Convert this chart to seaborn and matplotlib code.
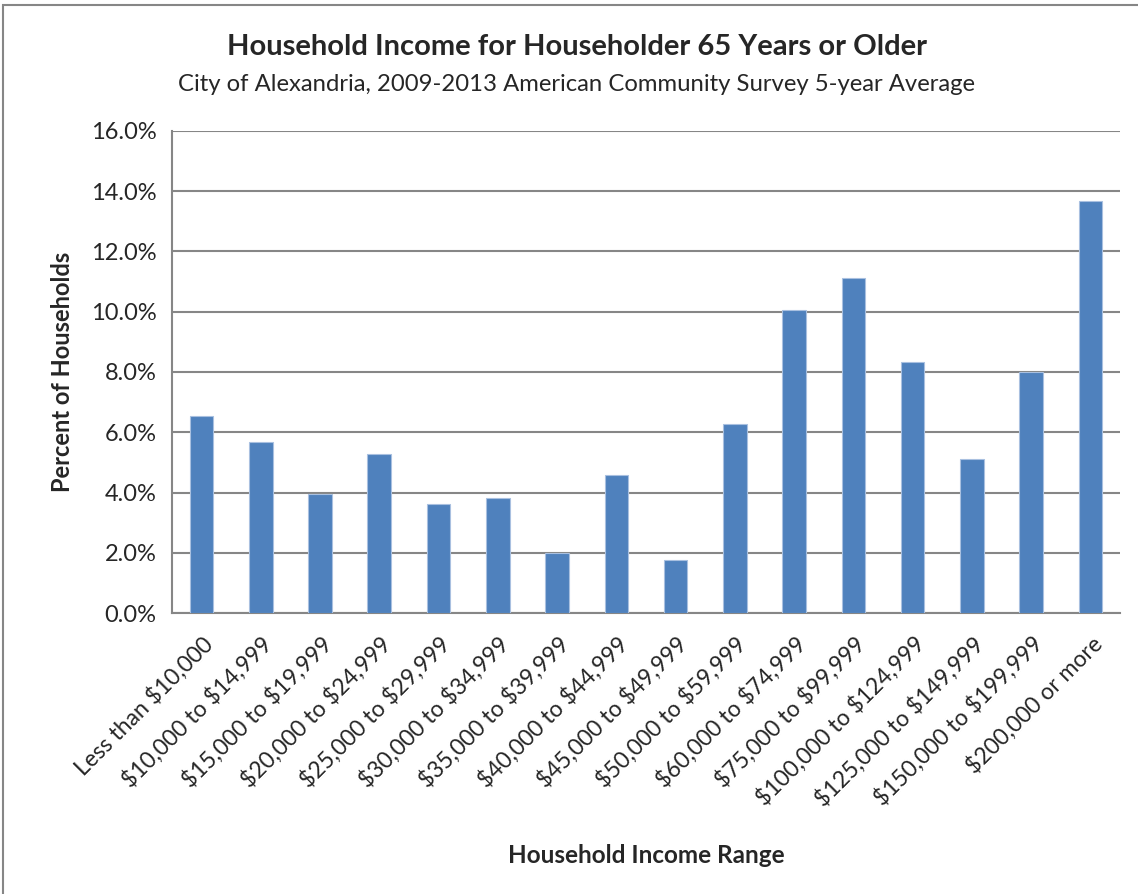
import pandas as pd
import seaborn as sns
import matplotlib.pyplot as plt
from matplotlib.ticker import FuncFormatter, FixedLocator
from matplotlib.patches import Rectangle

# income ranges and share of households (percent)
categories = ["Less than $10,000", "$10,000 to $14,999", "$15,000 to $19,999",
              "$20,000 to $24,999", "$25,000 to $29,999", "$30,000 to $34,999",
              "$35,000 to $39,999", "$40,000 to $44,999", "$45,000 to $49,999",
              "$50,000 to $59,999", "$60,000 to $74,999", "$75,000 to $99,999",
              "$100,000 to $124,999", "$125,000 to $149,999", "$150,000 to $199,999",
              "$200,000 or more"]
percent = [6.54, 5.67, 3.94, 5.27, 3.62, 3.82, 1.99, 4.57,
           1.77, 6.28, 10.06, 11.12, 8.33, 5.10, 7.99, 13.69]
yticks = [0, 2, 4, 6, 8, 10, 12, 14, 16]

df = pd.DataFrame({"range": categories, "pct": percent})

sns.set_style("white")
plt.rcParams["font.family"] = ["Lato", "DejaVu Sans"]
plt.rcParams["text.parse_math"] = False  # keep the $ signs literal
grid_col = "#868686"

fig = plt.figure(figsize=(11.38, 8.94), dpi=100)
ax = fig.add_axes([0.1511, 0.3143, 0.8331, 0.5392])

sns.barplot(data=df, x="range", y="pct", color="#4F81BD", width=0.4,
            saturation=1, edgecolor="#A9C0E0", linewidth=0.8, ax=ax, zorder=3)

ax.set_ylim(0, 16)
ax.set_xlim(-0.5, len(categories) - 0.5)
ax.yaxis.set_major_locator(FixedLocator(yticks))
ax.yaxis.set_major_formatter(FuncFormatter(lambda v, p: f"{v:.1f}%"))
ax.grid(axis="y", color=grid_col, linewidth=1.5, zorder=0)
ax.set_axisbelow(True)

for side in ["top", "right"]:
    ax.spines[side].set_visible(False)
for side in ["left", "bottom"]:
    ax.spines[side].set_color(grid_col)
    ax.spines[side].set_linewidth(1.5)

# ticks between categories, like Excel
ax.set_xticks(range(len(categories)))
ax.set_xticks([i - 0.5 for i in range(len(categories) + 1)], minor=True)
ax.tick_params(axis="x", which="major", length=0, pad=14)
ax.tick_params(axis="x", which="minor", length=7, width=1.5, color=grid_col, direction="out")
ax.tick_params(axis="y", length=7, width=1.5, color=grid_col, direction="out",
               labelsize=17, pad=4)
ax.set_xticklabels(categories, rotation=45, ha="right", rotation_mode="anchor",
                   fontsize=16.5)

ax.set_ylabel("Percent of Households", fontsize=17, fontweight="bold", labelpad=12)
ax.set_xlabel("Household Income Range", fontsize=17.5, fontweight="bold")
ax.xaxis.set_label_coords(0.5, -0.48)

fig.text(0.507, 0.947, "Household Income for Householder 65 Years or Older",
         ha="center", va="center", fontsize=21, fontweight="bold")
fig.text(0.507, 0.906, "City of Alexandria, 2009-2013 American Community Survey 5-year Average",
         ha="center", va="center", fontsize=17.2)

fig.add_artist(Rectangle((0.003, -0.01), 1.1, 1.004, transform=fig.transFigure,
                         fill=False, edgecolor=grid_col, linewidth=1.5))

fig.savefig("out.png", dpi=100)
